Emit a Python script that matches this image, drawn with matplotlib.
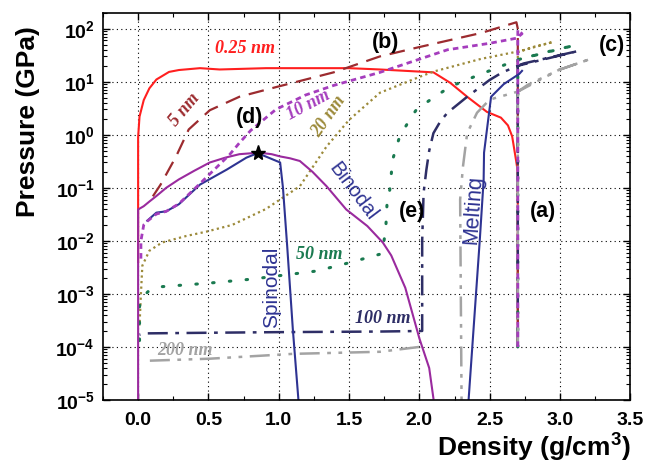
import numpy as np
import matplotlib
matplotlib.use("Agg")
import matplotlib.pyplot as plt
from matplotlib.ticker import FuncFormatter, LogLocator, MultipleLocator

plt.rcParams["font.family"] = ["Liberation Sans", "DejaVu Sans"]
plt.rcParams["mathtext.fontset"] = "custom"
plt.rcParams["mathtext.rm"] = "Liberation Sans"
plt.rcParams["mathtext.bf"] = "Liberation Sans:bold"

# Density (g/cm3) and pressure (GPa)
red_x = [2.70, 2.70, 2.69, 2.66, 2.63, 2.58, 2.48, 2.34, 2.22, 2.10, 1.72, 1.50, 0.91, 0.58, 0.44, 0.29, 0.22, 0.13, 0.08, 0.04, 0.01, 0.0, 0.0]
red_y = [1e-4, 0.2, 0.3, 0.93, 1.5, 2.1, 2.7, 5.2, 9.5, 15, 17, 18, 18, 17, 18, 16.6, 15.3, 11, 7.5, 4.5, 2.2, 0.9, 0.004]

brown_x = [2.70, 2.70, 2.69, 2.44, 2.00, 1.72, 1.39, 0.98, 0.72, 0.51, 0.36, 0.27, 0.16, 0.07]
brown_y = [1e-4, 100, 132, 83, 45, 30, 15, 7.9, 5.2, 2.9, 1.26, 0.39, 0.115, 0.05]

purple_x = [2.70, 2.70, 2.73, 2.69, 2.50, 2.20, 1.72, 1.39, 1.19, 0.98, 0.80, 0.72, 0.65, 0.44, 0.29, 0.20, 0.13, 0.07, 0.04, 0.02, 0.02]
purple_y = [1e-4, 95, 80, 66, 53, 40, 15, 8.5, 5.6, 3.0, 1.2, 0.7, 0.42, 0.12, 0.05, 0.036, 0.032, 0.024, 0.02, 0.01, 0.004]

olive_x = [2.70, 2.70, 2.82, 2.95, 2.72, 2.44, 2.10, 2.00, 1.72, 1.50, 1.34, 1.15, 0.91, 0.67, 0.49, 0.34, 0.17, 0.08, 0.03, 0.02, 0.01]
olive_y = [1e-4, 36, 46, 56, 38, 27, 15.5, 12.3, 6.2, 1.9, 0.6, 0.107, 0.04, 0.02, 0.015, 0.0123, 0.0093, 0.0065, 0.0034, 0.001, 2.5e-4]

green_x = [2.70, 2.70, 2.90, 3.11, 2.89, 2.70, 2.39, 2.22, 2.08, 1.98, 1.94, 1.86, 1.81, 1.79, 1.77, 1.76, 1.74, 1.72, 1.49, 1.27, 0.81, 0.51, 0.14, 0.07, 0.02, 0.01, 0.01]
green_y = [1e-4, 26, 36, 49, 35, 26, 12.4, 8.1, 4.6, 3.0, 2.1, 0.93, 0.34, 0.093, 0.05, 0.015, 0.0075, 0.0056, 0.0038, 0.0027, 0.0019, 0.0016, 0.00135, 0.0011, 0.0008, 0.00057, 1e-4]

navy_x = [2.70, 2.70, 3.13, 2.74, 2.59, 2.50, 2.34, 2.20, 2.15, 2.10, 2.07, 2.05, 2.03, 2.02, 2.02, 1.72, 1.00, 0.50, 0.05, 0.01]
navy_y = [1e-4, 20, 38, 22, 15, 10.8, 5.2, 2.6, 1.8, 1.07, 0.5, 0.22, 0.08, 0.01, 2e-4, 1.95e-4, 1.9e-4, 1.85e-4, 1.8e-4, 1.7e-4]

gray_x = [2.70, 2.70, 2.99, 3.22, 2.99, 2.77, 2.70, 2.50, 2.41, 2.34, 2.31, 2.29, 2.30, 2.30, np.nan, 2.00, 1.72, 1.10, 0.51, 0.08, 0.06]
gray_y = [1e-4, 6.5, 16.6, 27, 16.6, 8.7, 6.5, 4.6, 2.6, 1.07, 0.25, 0.06, 1e-5, 1e-6, np.nan, 1e-4, 8.1e-5, 7.4e-5, 6e-5, 5.5e-5, 5.3e-5]

binodal_x = [0.0, 0.0, 0.04, 0.08, 0.13, 0.20, 0.29, 0.40, 0.51, 0.62, 0.72, 0.86, 0.95, 1.01, 1.08, 1.15, 1.24, 1.34, 1.48, 1.63, 1.74, 1.80, 1.90, 2.00, 2.07, 2.10]
binodal_y = [1e-5, 0.039, 0.045, 0.055, 0.07, 0.1, 0.144, 0.21, 0.3, 0.37, 0.43, 0.46, 0.43, 0.39, 0.36, 0.32, 0.2, 0.107, 0.039, 0.019, 0.0093, 0.0053, 0.0013, 1.45e-4, 4e-5, 1.07e-5]

spinodal_x = [0.065, 0.13, 0.20, 0.29, 0.44, 0.63, 0.77, 0.85, 1.01, 1.03, 1.06, 1.10, 1.14]
spinodal_y = [0.024, 0.034, 0.036, 0.049, 0.115, 0.22, 0.37, 0.45, 0.3, 0.1, 0.008, 2.2e-4, 1e-5]

melting_x = [2.35, 2.43, 2.457, 2.46, 2.51, 2.60, 2.71, 2.73]
melting_y = [1e-5, 0.0107, 0.14, 0.46, 5.2, 9, 14, 16]

crit_x, crit_y = 0.85, 0.45

fig = plt.figure(figsize=(6.6, 4.7), dpi=100)
ax = fig.add_axes([0.156, 0.149, 0.799, 0.824])

ax.plot(red_x, red_y, color="#ff1f1f", lw=1.5)
ax.plot(brown_x, brown_y, color="#9c2b2f", lw=1.6, ls=(0, (7, 4)))
ax.plot(olive_x, olive_y, color="#9c8a3a", lw=1.6, ls=(0, (1, 1.5)))
ax.plot(green_x, green_y, color="#1a7a50", lw=2.2, ls=(0, (0.5, 5)), dash_capstyle="round")
ax.plot(navy_x, navy_y, color="#2e2e66", lw=1.8, ls=(0, (8, 3, 1.5, 3)))
ax.plot(gray_x, gray_y, color="#a3a3a3", lw=1.8, ls=(0, (8, 3, 1.5, 3, 1.5, 3)))
ax.plot(binodal_x, binodal_y, color="#9a2a9e", lw=1.5)
ax.plot(spinodal_x, spinodal_y, color="#2e3392", lw=1.5)
ax.plot(purple_x, purple_y, color="#a53dbd", lw=2.0, ls=(0, (2, 1.5)))
ax.plot(melting_x, melting_y, color="#2e3392", lw=1.5)
ax.plot(crit_x, crit_y, marker="*", color="black", ms=11, zorder=5)

ax.set_yscale("log")
ax.set_xlim(-0.25, 3.5)
ax.set_ylim(1e-5, 200)
ax.xaxis.set_major_locator(MultipleLocator(0.5))
ax.xaxis.set_minor_locator(MultipleLocator(0.25))
ax.yaxis.set_major_locator(LogLocator(base=10, numticks=20))
ax.yaxis.set_minor_locator(LogLocator(base=10, subs=np.arange(2, 10), numticks=20))
ax.yaxis.set_major_formatter(FuncFormatter(lambda v, p: r"$\mathbf{10^{%d}}$" % round(np.log10(v))))
ax.xaxis.set_major_formatter(FuncFormatter(lambda v, p: "%.1f" % v))
ax.tick_params(which="both", direction="in", top=True, right=True)
ax.tick_params(which="major", length=5, width=1, labelsize=14)
ax.tick_params(axis="x", which="major", pad=9)
ax.tick_params(axis="y", which="major", pad=6)
ax.tick_params(which="minor", length=3, width=0.8)
for lbl in ax.get_xticklabels():
    lbl.set_fontweight("bold")
ax.grid(True, which="major", color="black", ls=(0, (1, 3)), lw=0.8)
for s in ax.spines.values():
    s.set_linewidth(1.2)

ax.set_xlabel("Density (g/cm$^\\mathbf{3}$)", fontsize=19, fontweight="bold", ha="right", va="center")
ax.xaxis.set_label_coords(1.0, -0.121)
ax.set_ylabel("Pressure (GPa)", fontsize=19, fontweight="bold", va="center")
ax.yaxis.set_label_coords(-0.142, 0.72)

serif = dict(family="Liberation Serif", fontweight="bold", fontstyle="italic", fontsize=13, ha="center", va="center")
ax.text(0.76, 43, "0.25 nm", color="#ff1f1f", **serif)
ax.text(0.33, 3.0, "5 nm", color="#9c2b2f", rotation=50, **serif)
ax.text(1.21, 3.6, "10 nm", color="#a53dbd", rotation=28, **serif)
ax.text(1.36, 2.2, "20 nm", color="#9c8a3a", rotation=55, **serif)
ax.text(1.29, 0.0056, "50 nm", color="#1a7a50", **serif)
ax.text(1.74, 3.4e-4, "100 nm", color="#2e2e66", **serif)
ax.text(0.33, 8.5e-5, "200 nm", color="#a3a3a3", **serif)

bold = dict(fontsize=15.5, fontweight="bold", ha="center", va="center")
ax.text(2.88, 0.036, "(a)", **bold)
ax.text(1.76, 56, "(b)", **bold)
ax.text(3.37, 49, "(c)", **bold)
ax.text(0.79, 2.1, "(d)", **bold)
ax.text(1.95, 0.036, "(e)", **bold)

ax.text(1.53, 0.085, "Binodal", color="#2e3392", fontsize=14.5, rotation=-53, ha="center", va="center")
ax.text(0.95, 0.00135, "Spinodal", color="#2e3392", fontsize=15, rotation=90, ha="center", va="center")
ax.text(2.38, 0.039, "Melting", color="#2e3392", fontsize=15.5, rotation=86, ha="center", va="center")

fig.savefig("out.png", dpi=100)
